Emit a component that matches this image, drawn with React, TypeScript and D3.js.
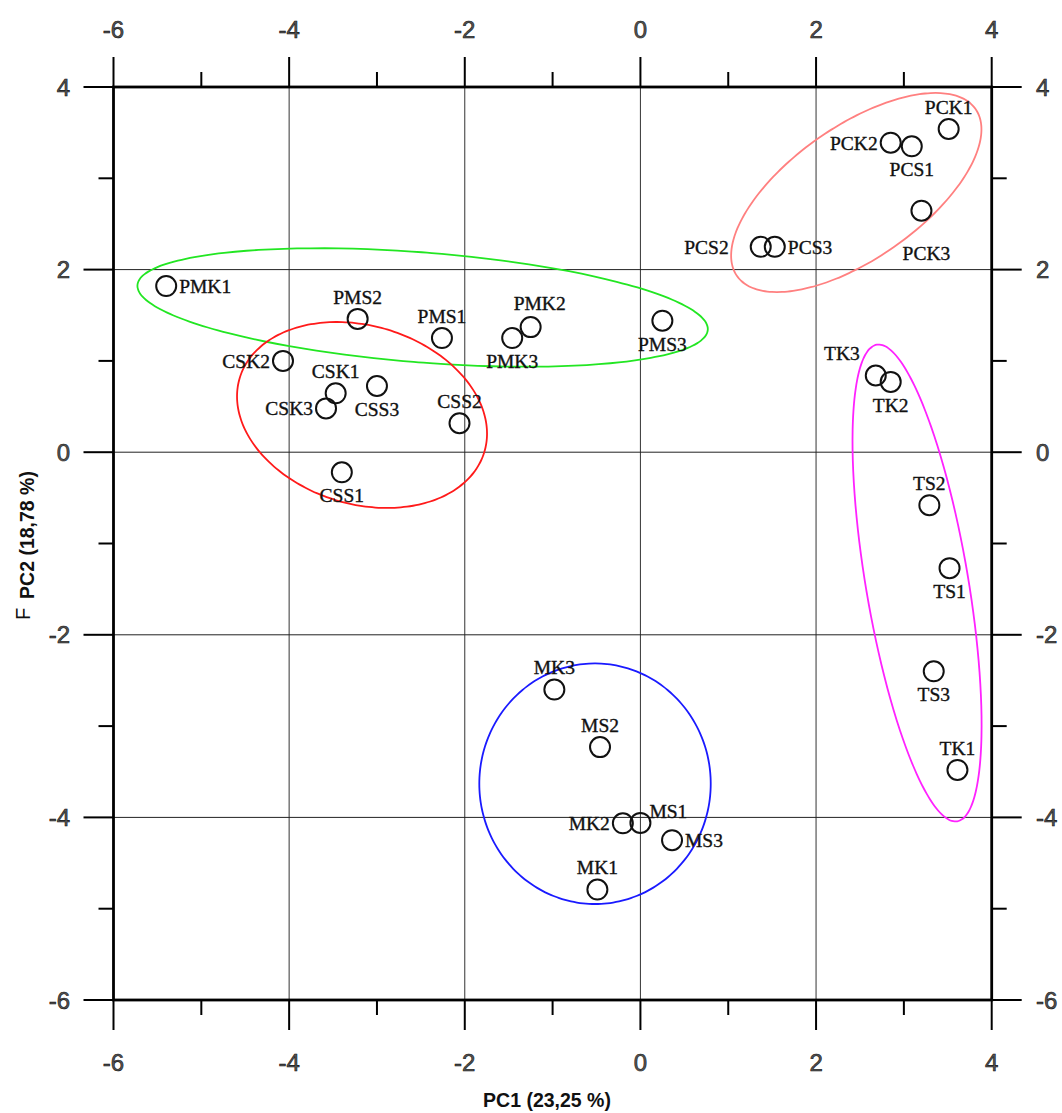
import React from 'react';
import * as d3 from 'd3';

const names = ['PMK1','PMS2','PMS1','PMK3','PMK2','PMS3','CSK2','CSK1','CSK3','CSS3','CSS2','CSS1','MK3','MS2','MK2','MS1','MS3','MK1','PCK1','PCK2','PCS1','PCK3','PCS2','PCS3','TK3','TK2','TS2','TS1','TS3','TK1'];
const pc1 = [-5.40,-3.22,-2.26,-1.46,-1.25,0.25,-4.07,-3.47,-3.58,-3.00,-2.06,-3.40,-0.98,-0.46,-0.20,0.00,0.36,-0.49,3.51,2.85,3.09,3.20,1.37,1.53,2.68,2.85,3.29,3.52,3.34,3.61];
const pc2 = [1.82,1.46,1.25,1.25,1.37,1.44,1.00,0.645,0.48,0.725,0.317,-0.22,-2.60,-3.23,-4.065,-4.06,-4.25,-4.79,3.54,3.39,3.35,2.645,2.25,2.25,0.84,0.77,-0.58,-1.27,-2.40,-3.48];
const labelPos = ['r','t','t','b','tR','b','l','t','l','b','t','b','t','t','l','tr','r','t','t','l','b','bb','ll','r','tl','b','t','b','b','t'];

// confidence ellipses: center and two semi-axis vectors, in data units
const ellColors = ['#ff8080','#22e622','#ff1a1a','#1a1aff','#ff22ff'];
const ellCx = [2.458,-2.48,-3.170,-0.517,3.150];
const ellCy = [2.844,1.585,0.4075,-3.631,-1.4326];
const ellAx = [1.358,3.247,1.3926,1.3176,0.4577];
const ellAy = [0.9146,-0.2458,-0.4058,0,-2.610];
const ellBx = [0.4324,-0.0492,-0.2941,0,-0.575];
const ellBy = [-0.594,-0.6005,-0.934,-1.3176,-0.0932];

const xTicks = [-6,-4,-2,0,2,4];
const yTicks = [-6,-4,-2,0,2,4];
const xMinor = [-5,-3,-1,1,3];
const yMinor = [-5,-3,-1,1,3];
const xTitle = 'PC1 (23,25 %)';
const yTitle = 'PC2 (18,78 %)';

const W = 1062, H = 1113;
const x = d3.scaleLinear().domain([-6, 4]).range([113.5, 991.7]);
const y = d3.scaleLinear().domain([-6, 4]).range([1000, 87]);

const off: Record<string, [number, number, string]> = {
  t: [0, -22, 'middle'],
  tR: [9, -24, 'middle'],
  b: [0, 23, 'middle'],
  bb: [5, 42, 'middle'],
  l: [-13, 0, 'end'],
  ll: [-32, 0, 'end'],
  r: [13, 0, 'start'],
  tr: [9, -12, 'start'],
  tl: [-16, -22, 'end'],
};

function ellipsePath(i: number) {
  const pts: [number, number][] = d3.range(0, 360, 3).map((deg) => {
    const t = (deg * Math.PI) / 180;
    const dx = ellCx[i] + Math.cos(t) * ellAx[i] + Math.sin(t) * ellBx[i];
    const dy = ellCy[i] + Math.cos(t) * ellAy[i] + Math.sin(t) * ellBy[i];
    return [x(dx), y(dy)];
  });
  return d3.line().curve(d3.curveCardinalClosed)(pts) as string;
}

const tickFont = { fontFamily: 'Liberation Sans, Arial, sans-serif', fontSize: 24, fill: '#555', stroke: '#111', strokeWidth: 0.6 } as const;

export default function App() {
  const x0 = x(-6), x1 = x(4), y0 = y(-6), y1 = y(4);
  return (
    <svg width={W} height={H} style={{ position: 'absolute', left: 0, top: 0, background: '#fff' }}>
      {/* grid */}
      {xTicks.filter((t) => t > -6 && t < 4).map((t) => (
        <line key={'gx' + t} x1={x(t)} x2={x(t)} y1={y1} y2={y0} stroke="#333" strokeWidth={1} />
      ))}
      {yTicks.filter((t) => t > -6 && t < 4).map((t) => (
        <line key={'gy' + t} x1={x0} x2={x1} y1={y(t)} y2={y(t)} stroke="#222" strokeWidth={1} />
      ))}
      {/* ellipses */}
      {ellColors.map((c, i) => (
        <path key={'e' + i} d={ellipsePath(i)} fill="none" stroke={c} strokeWidth={1.8} />
      ))}
      {/* points */}
      {names.map((n, i) => (
        <circle key={'c' + n} cx={x(pc1[i])} cy={y(pc2[i])} r={10} fill="none" stroke="#111" strokeWidth={2} />
      ))}
      {names.map((n, i) => {
        const [dx, dy, anchor] = off[labelPos[i]];
        return (
          <text key={'t' + n} x={x(pc1[i]) + dx} y={y(pc2[i]) + dy} dy="0.35em" textAnchor={anchor as any}
            fontFamily="Liberation Serif, Times New Roman, serif" fontSize={19.5} fill="#111" stroke="#111" strokeWidth={0.35}>{n}</text>
        );
      })}
      {/* frame */}
      <rect x={x0} y={y1} width={x1 - x0} height={y0 - y1} fill="none" stroke="#000" strokeWidth={2.8} />
      {/* ticks */}
      {xTicks.map((t) => (
        <g key={'xt' + t}>
          <line x1={x(t)} x2={x(t)} y1={y1} y2={y1 - 30} stroke="#000" strokeWidth={2} />
          <line x1={x(t)} x2={x(t)} y1={y0} y2={y0 + 30} stroke="#000" strokeWidth={2} />
          <text x={x(t)} y={29} dy="0.36em" textAnchor="middle" {...tickFont}>{t}</text>
          <text x={x(t)} y={1062} dy="0.36em" textAnchor="middle" {...tickFont}>{t}</text>
        </g>
      ))}
      {xMinor.map((t) => (
        <g key={'xm' + t}>
          <line x1={x(t)} x2={x(t)} y1={y1} y2={y1 - 15} stroke="#000" strokeWidth={2} />
          <line x1={x(t)} x2={x(t)} y1={y0} y2={y0 + 15} stroke="#000" strokeWidth={2} />
        </g>
      ))}
      {yTicks.map((t) => (
        <g key={'yt' + t}>
          <line x1={x0} x2={x0 - 30} y1={y(t)} y2={y(t)} stroke="#000" strokeWidth={2} />
          <line x1={x1} x2={x1 + 30} y1={y(t)} y2={y(t)} stroke="#000" strokeWidth={2} />
          <text x={70} y={y(t)} dy="0.36em" textAnchor="end" {...tickFont}>{t}</text>
          <text x={1036} y={y(t)} dy="0.36em" textAnchor="start" {...tickFont}>{t}</text>
        </g>
      ))}
      {yMinor.map((t) => (
        <g key={'ym' + t}>
          <line x1={x0} x2={x0 - 15} y1={y(t)} y2={y(t)} stroke="#000" strokeWidth={2} />
          <line x1={x1} x2={x1 + 15} y1={y(t)} y2={y(t)} stroke="#000" strokeWidth={2} />
        </g>
      ))}
      {/* axis titles */}
      <text x={547} y={1100} dy="0.35em" textAnchor="middle" fontFamily="Liberation Sans, Arial, sans-serif"
        fontWeight="bold" fontSize={19.5} fill="#111">{xTitle}</text>
      <text transform="translate(27,535) rotate(-90)" dy="0.35em" textAnchor="middle" fontFamily="Liberation Sans, Arial, sans-serif"
        fontWeight="bold" fontSize={19.5} fill="#111">{yTitle}</text>
      <text transform="translate(23,614) rotate(-90)" dy="0.35em" textAnchor="middle" fontFamily="Liberation Sans, Arial, sans-serif"
        fontSize={20} fill="#111">F</text>
    </svg>
  );
}
